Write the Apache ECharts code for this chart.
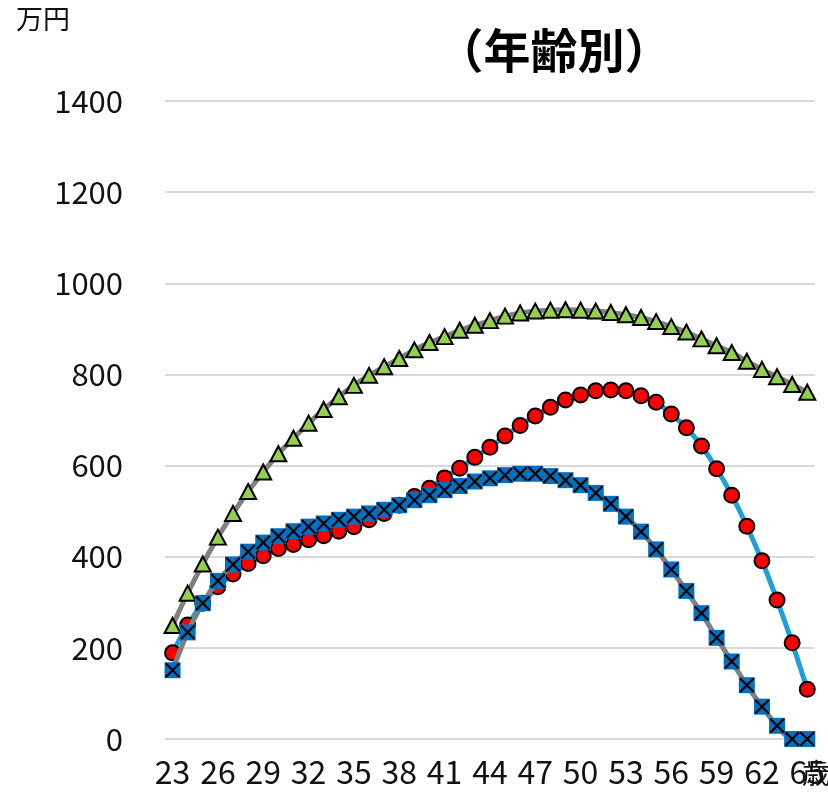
<!DOCTYPE html>
<html>
<head>
<meta charset="utf-8">
<script src="https://cdn.jsdelivr.net/npm/echarts@6/dist/echarts.min.js"></script>
<style>
  html, body { margin: 0; padding: 0; background: #fff; }
  #chart { width: 828px; height: 796px; }
</style>
</head>
<body>
<div id="chart"></div>
<script>
// Ages 23..65
const ages = [];
for (let a = 23; a <= 65; a++) ages.push(String(a));

// Series values (万円)
const seriesTriangle = [249, 320, 384, 443, 495, 543, 586, 626, 660, 693, 723, 751, 776, 798, 817, 835, 854, 870, 883, 897, 908, 918, 928, 935, 939, 941, 942, 941, 939, 936, 931, 925, 916, 905, 893, 878, 863, 848, 829, 811, 795, 778, 761];
const seriesCircle = [189, 250, 298, 334, 362, 385, 402, 418, 427, 437, 446, 456, 466, 481, 495, 513, 532, 550, 573, 594, 618, 640, 665, 688, 709, 728, 744, 755, 764, 766, 764, 753, 739, 713, 683, 643, 593, 535, 467, 391, 305, 211, 109];
const seriesSquare = [151, 234, 298, 347, 383, 411, 431, 445, 456, 466, 473, 481, 488, 495, 503, 513, 524, 535, 546, 555, 565, 572, 579, 582, 582, 577, 568, 557, 540, 516, 488, 455, 416, 372, 325, 276, 222, 170, 118, 71, 29, 0, 0];

const yTicks = { min: 0, max: 1400, interval: 200 };

const numFont = '"Noto Sans CJK JP", sans-serif';
const cjkFont = '"Noto Sans CJK JP", sans-serif';
const crossPath = 'path://M0,1 L1,0 L5,4 L9,0 L10,1 L6,5 L10,9 L9,10 L5,6 L1,10 L0,9 L4,5 Z';

const chart = echarts.init(document.getElementById('chart'), null, { renderer: 'canvas' });
chart.setOption({
  animation: false,
  backgroundColor: '#ffffff',
  title: {
    text: '（年齢別）',
    left: 549, top: 22, textAlign: 'center',
    textStyle: { fontFamily: cjkFont, fontWeight: 'bold', fontSize: 47, color: '#000' }
  },
  graphic: [
    { type: 'text', left: 16, top: 5, style: { text: '万円', fontFamily: cjkFont, fontSize: 27, fill: '#111' } },
    { type: 'text', left: 802, top: 759, style: { text: '歳', fontFamily: cjkFont, fontSize: 28, fill: '#111' } }
  ],
  grid: { left: 165, right: 10, top: 101, bottom: 57 },
  xAxis: {
    type: 'category',
    data: ages,
    boundaryGap: true,
    axisLine: { show: false },
    axisTick: { show: false },
    axisLabel: { interval: 2, margin: 17, fontFamily: numFont, fontSize: 32, color: '#111' }
  },
  yAxis: {
    type: 'value',
    min: yTicks.min, max: yTicks.max, interval: yTicks.interval,
    axisLine: { show: false },
    axisTick: { show: false },
    axisLabel: { margin: 42, fontFamily: numFont, fontSize: 31, color: '#111', formatter: v => String(v) },
    splitLine: { lineStyle: { color: '#d9d9d9', width: 2 } }
  },
  series: [
    {
      name: 'triangle', type: 'line', data: seriesTriangle, smooth: 0.3,
      showAllSymbol: true,
      symbol: 'triangle', symbolSize: [16, 15],
      lineStyle: { color: '#808080', width: 5 },
      itemStyle: { color: '#92d050', borderColor: '#000', borderWidth: 2 },
      z: 2
    },
    {
      name: 'circle', type: 'line', data: seriesCircle, smooth: 0.3,
      showAllSymbol: true,
      symbol: 'circle', symbolSize: 15,
      lineStyle: { color: '#1fa0d8', width: 5 },
      itemStyle: { color: '#ff0000', borderColor: '#000', borderWidth: 2 },
      z: 3
    },
    {
      name: 'square', type: 'line', data: seriesSquare, smooth: 0.3,
      showAllSymbol: true,
      symbol: 'rect', symbolSize: 16,
      lineStyle: { color: '#808080', width: 5 },
      itemStyle: { color: '#0070c0', borderWidth: 0 },
      z: 4
    },
    {
      name: 'squareCross', type: 'line', data: seriesSquare,
      showAllSymbol: true,
      symbol: crossPath, symbolSize: 15, symbolKeepAspect: true,
      lineStyle: { opacity: 0, width: 0 },
      itemStyle: { color: '#000' },
      z: 5
    }
  ]
});
</script>
</body>
</html>
